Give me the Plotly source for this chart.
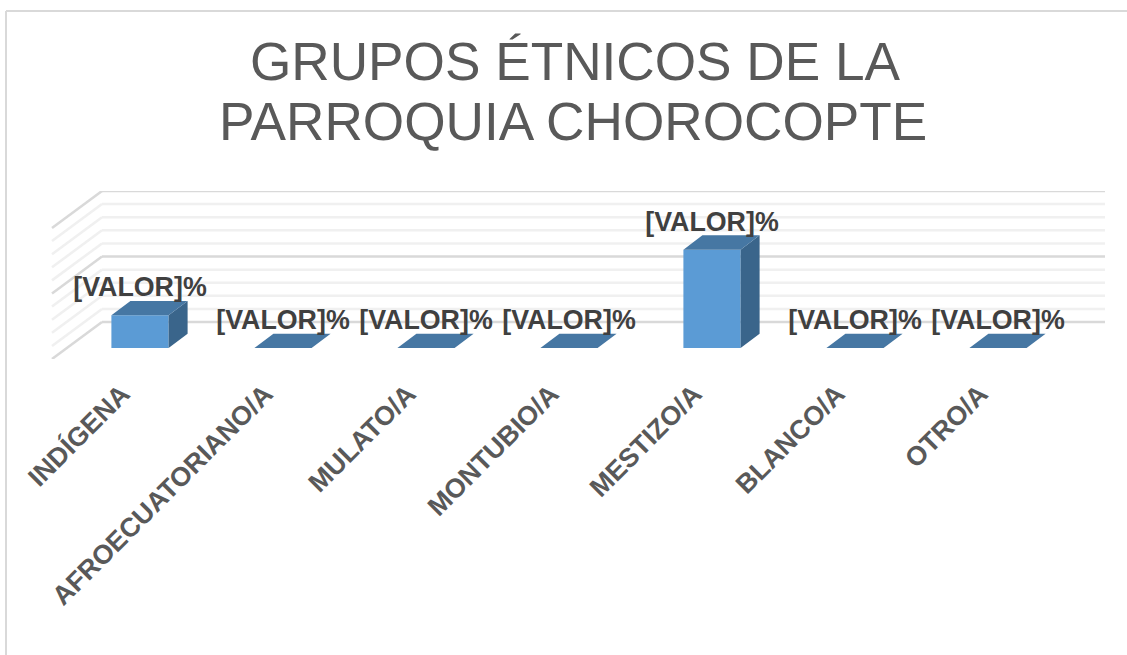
import plotly.graph_objects as go

categorias = ["INDÍGENA", "AFROECUATORIANO/A", "MULATO/A", "MONTUBIO/A", "MESTIZO/A", "BLANCO/A", "OTRO/A"]
valores = [25, 0, 0, 0, 75, 0, 0]
etiqueta = "[VALOR]%"
titulo_1 = "GRUPOS ÉTNICOS DE LA"
titulo_2 = "PARROQUIA CHOROCOPTE"
marcas_mayores = [0, 50, 100]
marcas_menores = [10, 20, 30, 40, 60, 70, 80, 90]

W, H = 1127, 655
CAT_PX = 143.0
UNIT_PX = 1.31
X0, X1 = (52 - 140) / CAT_PX, (1105 - 140) / CAT_PX
Y0, Y1 = -28.2, 100
BASE = -19.85
ANCHO = 0.4
DX_BAR, DY_BAR = 19 / CAT_PX, 11.0
DX_WALL, DY_WALL = 50 / CAT_PX, 28.2
AZUL, AZUL_TOP, AZUL_SIDE = "#5B9BD5", "#4677A3", "#3A658B"

fig = go.Figure()

fig.add_trace(go.Bar(x=list(range(len(valores))), y=valores, base=BASE, width=ANCHO,
                     marker=dict(color=AZUL, line=dict(width=0)), showlegend=False, hoverinfo="skip"))

tx, ty, sx, sy = [], [], [], []
for i, v in enumerate(valores):
    l, r = i - ANCHO / 2, i + ANCHO / 2
    t = BASE + v
    tx += [l, r, r + DX_BAR, l + DX_BAR, l, None]
    ty += [t, t, t + DY_BAR, t + DY_BAR, t, None]
    if v > 0:
        sx += [r, r + DX_BAR, r + DX_BAR, r, r, None]
        sy += [BASE, BASE + DY_BAR, t + DY_BAR, t, BASE, None]
fig.add_trace(go.Scatter(x=sx, y=sy, mode="lines", fill="toself", fillcolor=AZUL_SIDE,
                         line=dict(width=0), showlegend=False, hoverinfo="skip"))
fig.add_trace(go.Scatter(x=tx, y=ty, mode="lines", fill="toself", fillcolor=AZUL_TOP,
                         line=dict(width=0), showlegend=False, hoverinfo="skip"))
fig.add_trace(go.Scatter(x=list(range(len(valores))), y=[BASE + v + 19.6 for v in valores],
                         mode="text", text=[etiqueta] * len(valores), textposition="middle center",
                         textfont=dict(family="Liberation Sans", size=26.8, color="#404040", weight="bold"),
                         cliponaxis=False, showlegend=False, hoverinfo="skip"))

shapes = []
for marcas, color, ancho in ((marcas_menores, "#F0F0F0", 2.5), (marcas_mayores, "#D9D9D9", 2.5)):
    for m in marcas:
        xb = X0 + DX_WALL
        shapes.append(dict(type="line", xref="x", yref="y", x0=X0, y0=m - DY_WALL, x1=xb, y1=m,
                           line=dict(color=color, width=ancho), layer="below"))
        shapes.append(dict(type="line", xref="x", yref="y", x0=xb, y0=m, x1=X1, y1=m,
                           line=dict(color=color, width=ancho), layer="below"))
shapes.append(dict(type="line", xref="paper", yref="paper", x0=6 / W, x1=6 / W, y0=-0.2, y1=1 - 11 / H,
                   line=dict(color="#D9D9D9", width=2), layer="below"))
shapes.append(dict(type="line", xref="paper", yref="paper", x0=6 / W, x1=1.2, y0=1 - 11 / H, y1=1 - 11 / H,
                   line=dict(color="#D9D9D9", width=2), layer="below"))

fig.update_layout(
    width=W, height=H, margin=dict(l=0, r=0, t=0, b=0), autosize=False,
    paper_bgcolor="white", plot_bgcolor="rgba(0,0,0,0)",
    shapes=shapes, showlegend=False,
    font=dict(family="Liberation Sans", color="#595959"),
    title=dict(text=titulo_1, x=575 / W, xanchor="center", y=1 - 61 / H, yanchor="middle",
               xref="paper", yref="paper", font=dict(family="Liberation Sans", size=53.2, color="#595959")),
    annotations=[dict(text=titulo_2, x=572.5 / W, y=1 - 121 / H, xref="paper", yref="paper",
                      xanchor="center", yanchor="middle", showarrow=False,
                      font=dict(family="Liberation Sans", size=53.2, color="#595959"))],
    xaxis=dict(domain=[0, 1], range=[-140 / CAT_PX, (W - 140) / CAT_PX],
               tickmode="array", tickvals=[i - 18 / CAT_PX for i in range(len(categorias))], ticktext=categorias,
               tickangle=-45, showgrid=False, zeroline=False, showline=False, ticks="",
               ticklabelstandoff=13,
               tickfont=dict(family="Liberation Sans", size=26.7, color="#595959", weight="bold"),
               anchor="y"),
    yaxis=dict(domain=[1 - 359 / H, 1 - 191 / H], range=[Y0, Y1], visible=False),
)
fig.write_html("out.html", config=dict(displayModeBar=False),
               post_script="document.body.style.margin='0';document.body.style.overflow='hidden';")
